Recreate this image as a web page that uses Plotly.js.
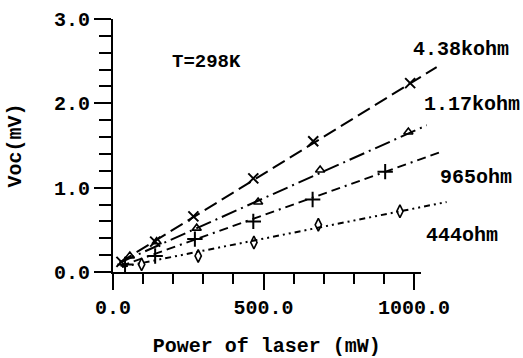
<!DOCTYPE html>
<html>
<head>
<meta charset="utf-8">
<script src="https://cdn.plot.ly/plotly-3.0.1.min.js"></script>
<style>html,body{margin:0;padding:0;background:#fff;}#chart{width:523px;height:358px;}</style>
</head>
<body>
<div id="chart"></div>
<script>
// ---- data ----
const seriesNames = ["4.38kohm", "1.17kohm", "965ohm", "444ohm"];

// measured points (markers)
const x438 = [28, 140, 267, 466, 665, 987];
const y438 = [0.12, 0.36, 0.66, 1.11, 1.55, 2.24];
const x117 = [56, 145, 278, 482, 688, 981];
const y117 = [0.19, 0.36, 0.52, 0.83, 1.21, 1.66];
const x965 = [40, 140, 272, 466, 663, 904];
const y965 = [0.09, 0.19, 0.39, 0.60, 0.86, 1.19];
const x444 = [95, 283, 468, 682, 953];
const y444 = [0.09, 0.19, 0.35, 0.56, 0.72];

// fitted lines (start / end)
const fitX438 = [22, 1075];  const fitY438 = [0.11, 2.43];
const fitX117 = [22, 1042];  const fitY117 = [0.11, 1.74];
const fitX965 = [25, 1086];  const fitY965 = [0.07, 1.42];
const fitX444 = [30, 1108];  const fitY444 = [0.06, 0.83];

const xTitle = "Power of laser (mW)";
const yTitle = "Voc(mV)";
const tempLabel = "T=298K";

// ---- styling ----
const FONT = "Liberation Mono, Courier New, monospace";
const W = 523, H = 358;
const L = 113, R = 60, T = 19, B = 86;
const plotW = W - L - R;             // 350
const xMax = 1022;                    // visible axis end
const xDomEnd = 307.7 / plotW;        // visible x-axis width in paper units
const x2Max = xMax / xDomEnd;         // same scale, wider clip area

const lineW = 2;
function fit(x, y, dash) {
  return {x: x, y: y, xaxis: 'x2', yaxis: 'y', mode: 'lines', showlegend: false,
          line: {color: 'black', width: lineW, dash: dash}, hoverinfo: 'skip'};
}
function pts(x, y, symbol, size, lw) {
  return {x: x, y: y, xaxis: 'x', yaxis: 'y', mode: 'markers', showlegend: false, cliponaxis: false,
          marker: {symbol: symbol, size: size, color: 'black', line: {color: 'black', width: lw}}};
}

const data = [
  fit(fitX438, fitY438, '14px,6px'),
  fit(fitX117, fitY117, '16px,5px,2px,5px'),
  fit(fitX965, fitY965, '9px,5px,9px,5px,2px,5px'),
  fit(fitX444, fitY444, '6px,4px,2px,4px,2px,4px'),
  pts(x438, y438, 'x-thin-open', 10, 2),
  pts(x117, y117, 'triangle-up-open', 8, 1.6),
  pts(x965, y965, 'cross-thin-open', 11, 2),
  pts(x444, y444, 'diamond-tall-open', 9, 1.6)
];

function px2paperX(px) { return (px - L) / plotW; }
function px2paperY(py) { return (H - B - py) / (H - B - T); }

const labelPos = [[461, 49], [472, 104.5], [476, 177], [462, 236]];
const annotations = seriesNames.map((s, i) => ({
  text: s, xref: 'paper', yref: 'paper',
  x: px2paperX(labelPos[i][0]), y: px2paperY(labelPos[i][1]),
  xanchor: 'center', yanchor: 'middle', showarrow: false,
  font: {family: FONT, size: 20, color: 'black', weight: 'bold'}
}));
annotations.push({
  text: tempLabel, xref: 'paper', yref: 'paper',
  x: px2paperX(206), y: px2paperY(62), xanchor: 'center', yanchor: 'middle', showarrow: false,
  font: {family: FONT, size: 19, color: 'black', weight: 'bold'}
});

const tickFont = {family: FONT, size: 20, color: 'black', weight: 'bold'};

const layout = {
  width: W, height: H,
  margin: {l: L, r: R, t: T, b: B, pad: 0},
  paper_bgcolor: 'white', plot_bgcolor: 'rgba(0,0,0,0)',
  showlegend: false,
  xaxis: {
    domain: [0, xDomEnd], range: [0, xMax], anchor: 'y',
    showline: true, linecolor: 'black', linewidth: 2,
    showgrid: false, zeroline: false,
    ticks: 'outside', ticklen: 16, tickwidth: 2, tickcolor: 'black',
    dtick: 500, tick0: 0, tickformat: '.1f',
    minor: {ticks: 'outside', dtick: 100, ticklen: 10, tickwidth: 2, tickcolor: 'black', showgrid: false},
    tickfont: tickFont,
    title: {text: xTitle, font: {family: FONT, size: 20, color: 'black', weight: 'bold'}, standoff: 26}
  },
  xaxis2: {
    domain: [0, 1], range: [0, x2Max], anchor: 'y', visible: false,
    showgrid: false, zeroline: false
  },
  yaxis: {
    domain: [0, 1], range: [0, 3], anchor: 'x',
    showline: true, linecolor: 'black', linewidth: 2,
    showgrid: false, zeroline: false,
    ticks: 'outside', ticklen: 17, tickwidth: 2, tickcolor: 'black',
    dtick: 1, tick0: 0, tickformat: '.1f',
    minor: {ticks: 'outside', dtick: 0.2, ticklen: 12, tickwidth: 2, tickcolor: 'black', showgrid: false},
    tickfont: tickFont,
    title: {text: yTitle, font: {family: FONT, size: 20, color: 'black', weight: 'bold'}, standoff: 27}
  },
  annotations: annotations
};

Plotly.newPlot('chart', data, layout, {displayModeBar: false, staticPlot: true});
</script>
</body>
</html>
